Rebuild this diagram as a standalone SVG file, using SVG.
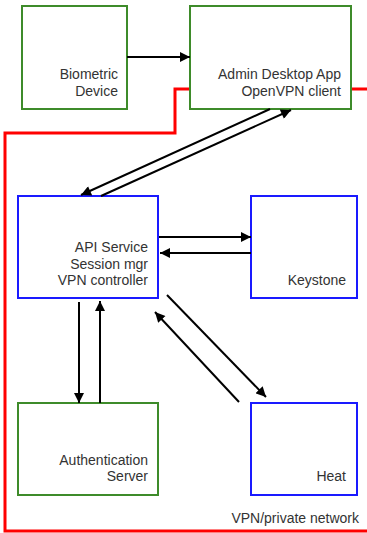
<svg xmlns="http://www.w3.org/2000/svg" width="367" height="533" viewBox="0 0 367 533">
<style>
.g{fill:#fff;stroke:#3e8b2a;stroke-width:2}
.b{fill:#fff;stroke:#1a1aff;stroke-width:2}
.t{font-family:"Liberation Sans",Arial,sans-serif;font-size:14px;fill:#333;text-anchor:end}
.c{stroke:#000;stroke-width:2;fill:none;marker-end:url(#ah)}
</style>
<defs>
<marker id="ah" viewBox="0 0 10 10" refX="10" refY="5" markerWidth="5.5" markerHeight="5" orient="auto" markerUnits="strokeWidth">
<path d="M0,0L10,5L0,10z" fill="#000"/>
</marker>
</defs>
<rect width="367" height="533" fill="#fff"/>
<path id="vpn" d="M367,89H351M190,89H175V133H5V531H367" fill="none" stroke="#f00" stroke-width="3"/>
<g id="biometric"><rect class="g" x="22" y="6" width="105" height="103"/><text class="t" x="118" y="79">Biometric</text><text class="t" x="118" y="96">Device</text></g>
<g id="admin"><rect class="g" x="190" y="6" width="161" height="103"/><text class="t" x="341" y="79">Admin Desktop App</text><text class="t" x="341" y="96">OpenVPN client</text></g>
<g id="api"><rect class="b" x="18" y="196" width="140" height="102"/><text class="t" x="148" y="252">API Service</text><text class="t" x="148" y="269">Session mgr</text><text class="t" x="148" y="285">VPN controller</text></g>
<g id="keystone"><rect class="b" x="251" y="196" width="106" height="102"/><text class="t" x="346" y="285">Keystone</text></g>
<g id="auth"><rect class="g" x="18" y="403" width="140" height="92"/><text class="t" x="148" y="465">Authentication</text><text class="t" x="148" y="481">Server</text></g>
<g id="heat"><rect class="b" x="251" y="403" width="106" height="92"/><text class="t" x="346" y="481">Heat</text></g>
<text class="t" x="359" y="523">VPN/private network</text>
<g id="connectors">
<path class="c" d="M127,57H190"/>
<path class="c" d="M270,109L81,195"/>
<path class="c" d="M101,196L291,110"/>
<path class="c" d="M159,237H251"/>
<path class="c" d="M251,253H160"/>
<path class="c" d="M79,302V403"/>
<path class="c" d="M100,403V301"/>
<path class="c" d="M167,295L266,397"/>
<path class="c" d="M239,402L155,312"/>
</g>
</svg>
